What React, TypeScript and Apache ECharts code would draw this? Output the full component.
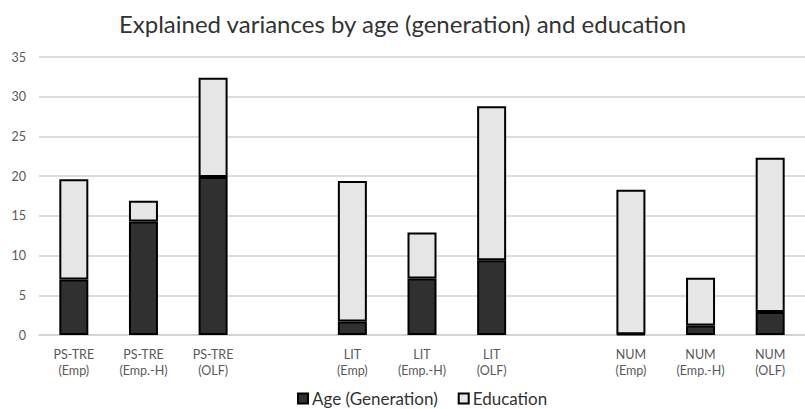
import React, { useEffect, useRef } from "react";
import * as echarts from "echarts";

const categories = [
  "PS-TRE\n(Emp)", "PS-TRE\n(Emp.-H)", "PS-TRE\n(OLF)", "",
  "LIT\n(Emp)", "LIT\n(Emp.-H)", "LIT\n(OLF)", "",
  "NUM\n(Emp)", "NUM\n(Emp.-H)", "NUM\n(OLF)",
];
const ageValues = [7.0, 14.3, 19.9, null, 1.7, 7.1, 9.4, null, 0.1, 1.2, 2.9];
const educationValues = [12.6, 2.6, 12.5, null, 17.7, 5.8, 19.4, null, 18.2, 6.0, 19.4];
const seriesNames = ["Age (Generation)", "Education"];
const titleText = "Explained variances by age (generation) and education";

const FONT = "Lato, 'Open Sans', sans-serif";

export default function App() {
  const ref = useRef<HTMLDivElement>(null);
  useEffect(() => {
    if (!ref.current) return;
    const chart = echarts.init(ref.current, null, { renderer: "svg" });
    chart.setOption({
      animation: false,
      backgroundColor: "#ffffff",
      textStyle: { fontFamily: FONT },
      title: {
        text: titleText,
        left: "center",
        top: 6,
        textStyle: { fontFamily: FONT, fontSize: 24, fontWeight: "normal", color: "#333333" },
      },
      legend: {
        bottom: -3,
        left: 292,
        itemWidth: 10,
        itemHeight: 10,
        itemGap: 20,
        icon: "rect",
        textStyle: { fontFamily: FONT, fontSize: 17, color: "#333333", padding: [0, 0, 0, -1] },
        data: seriesNames,
      },
      grid: { left: 39, right: -10, top: 57, bottom: 74 },
      xAxis: {
        type: "category",
        data: categories,
        axisTick: { show: false },
        axisLine: { lineStyle: { color: "#d0d0d0", width: 1.5 } },
        axisLabel: { color: "#595959", fontSize: 12.5, lineHeight: 16, margin: 11, interval: 0, fontFamily: FONT },
      },
      yAxis: {
        type: "value",
        min: 0,
        max: 35,
        interval: 5,
        axisLine: { show: false },
        axisTick: { show: false },
        splitLine: { lineStyle: { color: "#d0d0d0", width: 1.5 } },
        axisLabel: { color: "#595959", fontSize: 12.5, margin: 13, fontFamily: FONT },
      },
      series: [
        {
          name: seriesNames[0],
          type: "bar",
          stack: "total",
          barWidth: 29,
          data: ageValues,
          itemStyle: { color: "#303030", borderColor: "#000000", borderWidth: 2 },
        },
        {
          name: seriesNames[1],
          type: "bar",
          stack: "total",
          barWidth: 29,
          data: educationValues,
          itemStyle: { color: "#e6e6e6", borderColor: "#000000", borderWidth: 2 },
        },
      ],
    });
    return () => chart.dispose();
  }, []);
  return <div ref={ref} style={{ width: 805, height: 409, position: "absolute", left: 0, top: 0 }} />;
}
